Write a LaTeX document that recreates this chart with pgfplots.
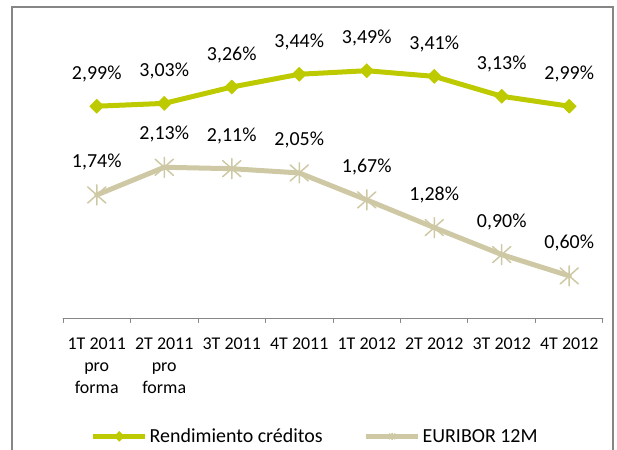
\documentclass[border=0pt]{standalone}
\usepackage{fontspec}
\setmainfont{Carlito}
\usepackage{pgfplots}
\pgfplotsset{compat=1.18}
\definecolor{cgreen}{RGB}{190,202,0}
\definecolor{cbeige}{RGB}{206,201,164}
\definecolor{cgray}{RGB}{134,134,134}
\pgfdeclareplotmark{xstar}{%
  \pgfpathmoveto{\pgfqpoint{-0.9\pgfplotmarksize}{-0.8\pgfplotmarksize}}%
  \pgfpathlineto{\pgfqpoint{0.9\pgfplotmarksize}{0.8\pgfplotmarksize}}%
  \pgfpathmoveto{\pgfqpoint{-0.9\pgfplotmarksize}{0.8\pgfplotmarksize}}%
  \pgfpathlineto{\pgfqpoint{0.9\pgfplotmarksize}{-0.8\pgfplotmarksize}}%
  \pgfpathmoveto{\pgfqpoint{0pt}{-\pgfplotmarksize}}%
  \pgfpathlineto{\pgfqpoint{0pt}{\pgfplotmarksize}}%
  \pgfusepathqstroke}
\begin{document}
\begin{tikzpicture}
\begin{axis}[
 at={(63bp,131.5bp)}, anchor=south west,
 scale only axis, width=540bp, height=284bp,
 xmin=-0.5, xmax=7.5, ymin=0, ymax=4,
 axis y line=none, axis x line*=bottom,
 x axis line style={cgray, line width=1bp},
 xtick={0,...,7},
 xticklabels={{1T 2011\\pro\\forma},{2T 2011\\pro\\forma},3T 2011,4T 2011,1T 2012,2T 2012,3T 2012,4T 2012},
 major tick length=0pt,
 minor xtick={-0.5,0.5,...,7.5},
 minor tick length=4bp,
 tick align=outside,
 minor tick style={cgray, line width=1bp},
 xticklabel style={font=\fontsize{18}{22}\selectfont, align=center, anchor=north, inner sep=0pt, yshift=-19bp},
 clip=false,
 nodes near coords, point meta=explicit symbolic,
 every node near coord/.append style={font=\fontsize{20}{24}\selectfont, yshift=24bp, text=black, inner sep=0pt},
 line cap=round, line join=round,
 legend image code/.code={\draw[#1, mark repeat=2, mark phase=2, mark size=3.5bp, line width=5bp] plot coordinates {(0bp,0bp)(26bp,0bp)(52bp,0bp)};},
 legend style={at={(0.467,-0.415)}, anchor=center, draw=none, fill=none, legend columns=2,
   font=\fontsize{20}{24}\selectfont, nodes={inner sep=2bp},
   /tikz/every even column/.append style={column sep=39bp}},
]
\addplot[color=cgreen, line width=5bp, mark=square*, mark size=5bp, mark options={rotate=45, solid, fill=cgreen, line width=0.5bp}]
 coordinates {(0,2.99)[2,99\%] (1,3.03)[3,03\%] (2,3.26)[3,26\%] (3,3.44)[3,44\%] (4,3.49)[3,49\%] (5,3.41)[3,41\%] (6,3.13)[3,13\%] (7,2.99)[2,99\%]};
\addlegendentry{Rendimiento créditos}
\addplot[color=cbeige, line width=5bp, mark=xstar, mark size=10bp, mark options={solid, line width=1.5bp}]
 coordinates {(0,1.74)[1,74\%] (1,2.13)[2,13\%] (2,2.11)[2,11\%] (3,2.05)[2,05\%] (4,1.67)[1,67\%] (5,1.28)[1,28\%] (6,0.90)[0,90\%] (7,0.60)[0,60\%]};
\addlegendentry{EURIBOR 12M}
\end{axis}
\draw[cgray, line width=2bp] (12bp,-5bp) -- (12bp,443bp) -- (613bp,443bp) -- (613bp,-5bp);
\pgfresetboundingbox
\useasboundingbox (0,0) rectangle (617bp,450bp);
\end{tikzpicture}
\end{document}
